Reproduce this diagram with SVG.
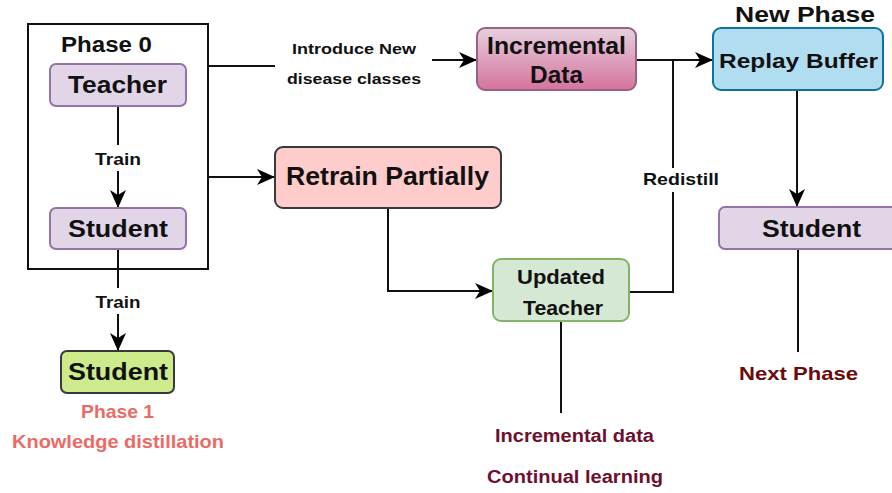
<svg xmlns="http://www.w3.org/2000/svg" width="892" height="493" viewBox="0 0 892 493">
<defs>
<linearGradient id="gInc" x1="0" y1="0" x2="0" y2="1">
<stop offset="0" stop-color="#e6d0de"/>
<stop offset="1" stop-color="#d5739d"/>
</linearGradient>
<marker id="arr" viewBox="0 0 18 18" refX="17" refY="9" markerWidth="18" markerHeight="18" markerUnits="userSpaceOnUse" orient="auto">
<path d="M0,1 L18,9 L0,17 L5,9 z" fill="#000"/>
</marker>
</defs>
<style>
text{font-family:"Liberation Sans",Arial,sans-serif;font-weight:bold;text-anchor:middle;fill:#111}
.ln{fill:none;stroke:#111;stroke-width:2}
.purple{fill:#e1d5e7;stroke:#9673a6;stroke-width:2}
.red{fill:#ea6b66}
.maroon{fill:#6e0f2f}
.dred{fill:#6b0a0a}
</style>
<rect width="892" height="493" fill="#fff"/>

<g id="connectors">
<line class="ln" x1="118" y1="106" x2="118" y2="145"/>
<line class="ln" x1="118" y1="171" x2="118" y2="207" marker-end="url(#arr)"/>
<line class="ln" x1="118" y1="249" x2="118" y2="288"/>
<line class="ln" x1="118" y1="314" x2="118" y2="350" marker-end="url(#arr)"/>
<line class="ln" x1="208" y1="66" x2="275" y2="66"/>
<line class="ln" x1="432" y1="60" x2="476" y2="60" marker-end="url(#arr)"/>
<line class="ln" x1="208" y1="177" x2="274" y2="177" marker-end="url(#arr)"/>
<polyline class="ln" points="388,208 388,291 492,291" marker-end="url(#arr)"/>
<polyline class="ln" points="629,292 673,292 673,192"/>
<line class="ln" x1="673" y1="168" x2="673" y2="60"/>
<line class="ln" x1="636" y1="60" x2="712" y2="60" marker-end="url(#arr)"/>
<line class="ln" x1="797" y1="90" x2="797" y2="206" marker-end="url(#arr)"/>
<line class="ln" x1="798" y1="249" x2="798" y2="352"/>
<line class="ln" x1="561" y1="321" x2="561" y2="413"/>
<text x="118" y="165" textLength="46" lengthAdjust="spacingAndGlyphs" style="font-size:17px">Train</text>
<text x="118" y="308" textLength="45" lengthAdjust="spacingAndGlyphs" style="font-size:17px">Train</text>
<text x="354" y="54" textLength="124" lengthAdjust="spacingAndGlyphs" style="font-size:15.5px">Introduce New</text>
<text x="354" y="84" textLength="134" lengthAdjust="spacingAndGlyphs" style="font-size:15.5px">disease classes</text>
<text x="681" y="185" textLength="76" lengthAdjust="spacingAndGlyphs" style="font-size:17px">Redistill</text>
</g>

<g id="phase0">
<rect x="28" y="24" width="180" height="245" fill="none" stroke="#111" stroke-width="2"/>
<text x="106.5" y="52" textLength="91" lengthAdjust="spacingAndGlyphs" style="font-size:22px">Phase 0</text>
</g>
<g id="teacher">
<rect class="purple" x="50" y="64" width="136" height="42" rx="6"/>
<text x="117.5" y="93" textLength="99" lengthAdjust="spacingAndGlyphs" style="font-size:24px">Teacher</text>
</g>
<g id="student0">
<rect class="purple" x="50" y="208" width="136" height="41" rx="6"/>
<text x="118" y="237" textLength="100" lengthAdjust="spacingAndGlyphs" style="font-size:24px">Student</text>
</g>
<g id="student1">
<rect x="61" y="351" width="113" height="42" rx="6" fill="#cdeb8b" stroke="#36393d" stroke-width="2"/>
<text x="118" y="380" textLength="100" lengthAdjust="spacingAndGlyphs" style="font-size:24px">Student</text>
<text class="red" x="117.5" y="418" textLength="73" lengthAdjust="spacingAndGlyphs" style="font-size:19px">Phase 1</text>
<text class="red" x="118" y="448" textLength="212" lengthAdjust="spacingAndGlyphs" style="font-size:19px">Knowledge distillation</text>
</g>
<g id="incremental">
<rect x="477" y="28" width="159" height="62" rx="8" fill="url(#gInc)" stroke="#996185" stroke-width="2"/>
<text x="556.5" y="54" textLength="139" lengthAdjust="spacingAndGlyphs" style="font-size:23px">Incremental</text>
<text x="556.5" y="83" textLength="53" lengthAdjust="spacingAndGlyphs" style="font-size:23px">Data</text>
</g>
<g id="retrain">
<rect x="275" y="147" width="226" height="61" rx="8" fill="#ffcccc" stroke="#36393d" stroke-width="2"/>
<text x="387.5" y="185" textLength="203" lengthAdjust="spacingAndGlyphs" style="font-size:25px">Retrain Partially</text>
</g>
<g id="updated">
<rect x="493" y="259" width="136" height="62" rx="8" fill="#d5e8d4" stroke="#82b366" stroke-width="2"/>
<text x="561" y="284" textLength="88" lengthAdjust="spacingAndGlyphs" style="font-size:19.5px">Updated</text>
<text x="563" y="315" textLength="80" lengthAdjust="spacingAndGlyphs" style="font-size:19.5px">Teacher</text>
<text class="maroon" x="574.5" y="442" textLength="159" lengthAdjust="spacingAndGlyphs" style="font-size:18px">Incremental data</text>
<text class="maroon" x="575" y="483" textLength="176" lengthAdjust="spacingAndGlyphs" style="font-size:18px">Continual learning</text>
</g>
<g id="replay">
<text x="805" y="22" textLength="140" lengthAdjust="spacingAndGlyphs" style="font-size:22px">New Phase</text>
<rect x="713" y="28" width="170" height="62" rx="8" fill="#b1ddf0" stroke="#10739e" stroke-width="2"/>
<text x="798.5" y="68" textLength="159" lengthAdjust="spacingAndGlyphs" style="font-size:21px">Replay Buffer</text>
</g>
<g id="student2">
<rect class="purple" x="719" y="207" width="184" height="42" rx="6"/>
<text x="811.5" y="237" textLength="99" lengthAdjust="spacingAndGlyphs" style="font-size:24px">Student</text>
<text class="dred" x="798.5" y="380" textLength="119" lengthAdjust="spacingAndGlyphs" style="font-size:19px">Next Phase</text>
</g>
</svg>
